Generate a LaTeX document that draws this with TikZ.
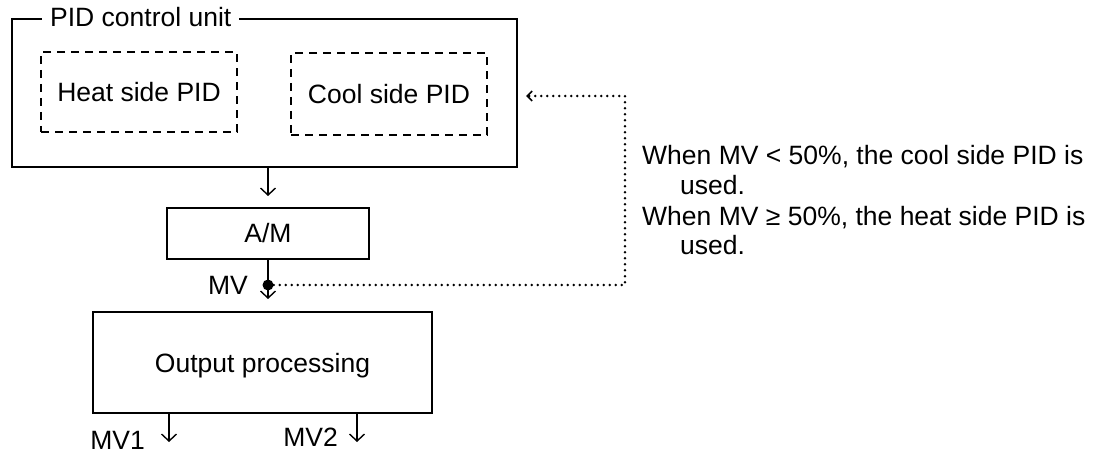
\documentclass[tikz,border=0pt]{standalone}
\usepackage{fontspec}
\setmainfont{Liberation Sans}
\usetikzlibrary{arrows.meta,calc}
\begin{document}
\begin{tikzpicture}[x=1pt,y=-1pt,
  font=\fontsize{26.5}{30}\selectfont,
  box/.style={draw, line width=2pt, inner sep=0pt, text height=19pt, text depth=0pt},
  subbox/.style={draw, line width=1.3pt, dash pattern=on 8pt off 6pt, inner sep=0pt, text height=19pt, text depth=0pt},
  lbl/.style={inner sep=0pt},
  flow/.style={line width=1.4pt, -{Straight Barb[length=7pt,width=15pt,line width=1.4pt]}},
  feedback/.style={line width=2.8pt, line cap=round, dash pattern=on 0pt off 6pt,
    -{Straight Barb[length=5pt,width=10pt,line width=1.6pt]}}
]
\useasboundingbox (0,0) rectangle (1098,454);

% PID control unit with its two controllers
\node[box, minimum width=505pt, minimum height=148pt] (unit) at (264.5,93) {};
\node[fill=white, inner xsep=8pt, inner ysep=3pt, anchor=base west] (unitlbl) at (42,27) {PID control unit};
\node[subbox, minimum width=196pt, minimum height=80pt] (heat) at (139,92) {Heat side PID};
\node[subbox, minimum width=196pt, minimum height=82pt] (cool) at (389,94) {Cool side PID};

% auto/manual switch and output stage
\node[box, minimum width=202pt, minimum height=51pt] (am) at (268,233.5) {A/M};
\node[box, minimum width=339pt, minimum height=101pt] (out) at (262.5,362.5) {Output processing};

% MV branch point
\node[circle, fill, inner sep=0pt, minimum size=11pt] (mv) at (268,285) {};
\node[lbl, anchor=east] (mvlbl) at ([xshift=-20pt]mv.center) {MV};

% main signal flow
\draw[flow, shorten >=11pt] (am.north |- unit.south) -- (am.north);
\draw[line width=1.4pt] (am.south) -- (mv.center);
\draw[flow, shorten >=12pt] (mv.center) -- (mv |- out.north);

% outputs
\coordinate (o1) at (169,442);
\coordinate (o2) at (357,442);
\draw[flow] (o1 |- out.south) -- (o1);
\draw[flow] (o2 |- out.south) -- (o2);
\node[lbl, anchor=base east] (mv1) at (145,449) {MV1};
\node[lbl, anchor=base east] (mv2) at (338,446) {MV2};

% MV fed back to select the PID side
\coordinate (fb1) at (625,285);
\coordinate (fb2) at (625,96);
\draw[feedback, shorten >=8pt] (mv) -- (fb1) -- (fb2) -- (fb2 -| unit.east);

% selection rule
\node[lbl, anchor=base west] (rule1) at (642,165) {When MV < 50\%, the cool side PID is};
\node[lbl, anchor=base west] (rule1b) at (680,195) {used.};
\node[lbl, anchor=base west] (rule2) at (642,226) {When MV ≥ 50\%, the heat side PID is};
\node[lbl, anchor=base west] (rule2b) at (680,255) {used.};
\end{tikzpicture}
\end{document}
